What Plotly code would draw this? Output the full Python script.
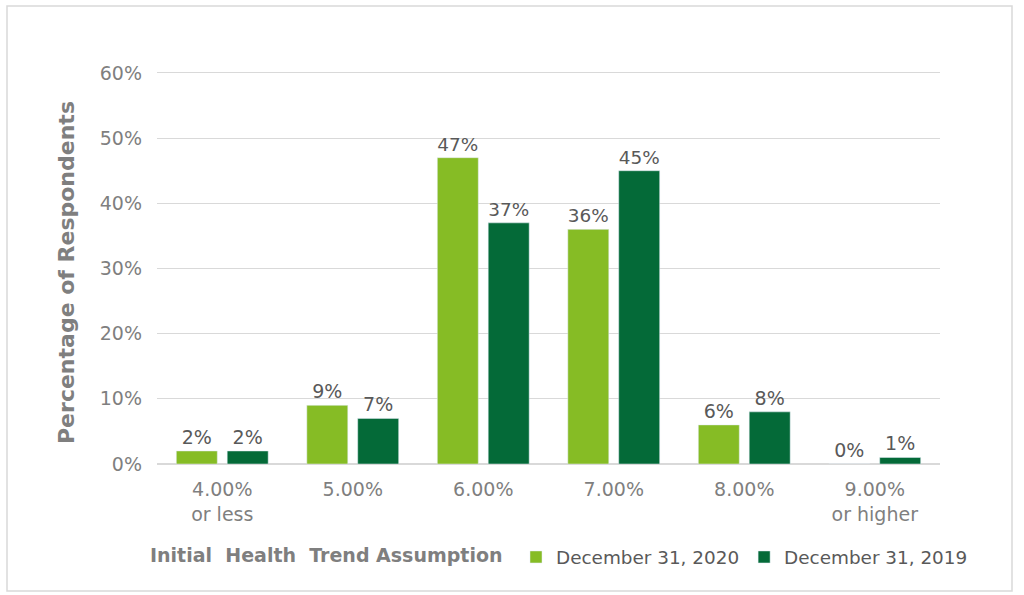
import plotly.graph_objects as go

categories = ["4.00%<br>or less", "5.00%", "6.00%", "7.00%", "8.00%", "9.00%<br>or higher"]
dec_2020 = [2, 9, 47, 36, 6, 0]
dec_2019 = [2, 7, 37, 45, 8, 1]
series_names = ["December 31, 2020", "December 31, 2019"]
y_ticks = [0, 10, 20, 30, 40, 50, 60]
y_max = 60.3

FONT = "DejaVu Sans"
L, R, T, B = 157, 84, 71, 131
W, H = 1024, 595
pw, ph = W - L - R, H - T - B

def px_x(x):
    return (x - L) / pw

def px_y(y):
    return (H - B - y) / ph

fig = go.Figure()
for name, vals, color in [(series_names[0], dec_2020, "#86BC25"), (series_names[1], dec_2019, "#046A38")]:
    fig.add_trace(go.Bar(
        x=categories, y=vals, name=name, marker_color=color,
        text=[f"{v}%" for v in vals], textposition="outside",
        textfont=dict(family=FONT, size=19, color="#595959"),
        cliponaxis=False,
    ))

fig.update_layout(
    width=W, height=H,
    margin=dict(l=L, r=R, t=T, b=B),
    paper_bgcolor="white", plot_bgcolor="white",
    barmode="group", bargap=0.22, bargroupgap=0.195,
    font=dict(family=FONT, color="#7F7F7F"),
    showlegend=True,
    legend=dict(orientation="h", x=px_x(516), y=px_y(557), xanchor="left", yanchor="middle",
                font=dict(family=FONT, size=18.4, color="#595959"),
                itemwidth=30, traceorder="normal", bgcolor="rgba(0,0,0,0)"),
    xaxis=dict(showgrid=False, showline=False, ticks="", ticklabelstandoff=12,
               tickfont=dict(family=FONT, size=19, color="#7F7F7F")),
    yaxis=dict(range=[0, y_max], tickvals=y_ticks, ticktext=[f"{v}%" for v in y_ticks],
               showgrid=True, gridcolor="#D9D9D9", gridwidth=1, zeroline=True,
               zerolinecolor="#D9D9D9", ticks="", ticklen=0, ticklabelstandoff=14,
               tickfont=dict(family=FONT, size=19, color="#7F7F7F")),
    annotations=[
        dict(text="<b>Initial  Health  Trend Assumption</b>", xref="paper", yref="paper",
             x=px_x(326), y=px_y(555), xanchor="center", yanchor="middle",
             showarrow=False, font=dict(family=FONT, size=19, color="#7F7F7F")),
        dict(text="<b>Percentage of Respondents</b>", xref="paper", yref="paper",
             x=px_x(66), y=px_y(273), xanchor="center", yanchor="middle", textangle=-90,
             showarrow=False, font=dict(family=FONT, size=22, color="#7F7F7F")),
    ],
    shapes=[dict(type="rect", xref="paper", yref="paper",
                 x0=px_x(7), x1=px_x(1012), y0=px_y(591), y1=px_y(6),
                 line=dict(color="#D9D9D9", width=1.5), fillcolor="rgba(0,0,0,0)", layer="below")],
)

fig.write_html("out.html", config={"displayModeBar": False},
               post_script="document.body.style.margin='0px';")
